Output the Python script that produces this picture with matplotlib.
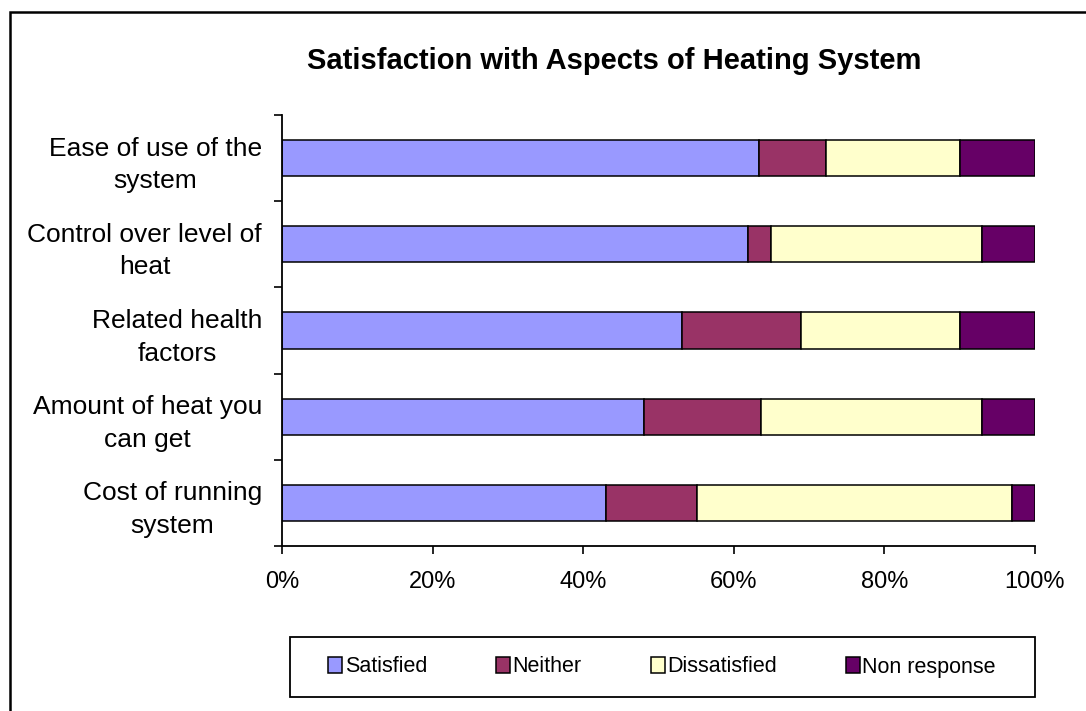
import matplotlib
matplotlib.use("Agg")
import matplotlib.pyplot as plt
from matplotlib.patches import Rectangle
from matplotlib.ticker import FixedLocator, PercentFormatter

plt.rcParams['font.family'] = ['Liberation Sans', 'DejaVu Sans']

categories = ["Ease of use of the\nsystem", "Control over level of\nheat",
              "Related health\nfactors", "Amount of heat you\ncan get",
              "Cost of running\nsystem"]
series_names = ["Satisfied", "Neither", "Dissatisfied", "Non response"]
satisfied = [63.3, 61.9, 53.1, 48.1, 43.0]
neither = [9.0, 3.1, 15.8, 15.5, 12.1]
dissatisfied = [17.7, 28.0, 21.1, 29.4, 41.8]
non_response = [10.0, 7.0, 10.0, 7.0, 3.1]
colors = ["#9999FF", "#993366", "#FFFFCC", "#660066"]
x_ticks = [0, 20, 40, 60, 80, 100]

W, H = 1086, 711
fig = plt.figure(figsize=(W/100, H/100), dpi=100)
# outer chart border (right/bottom edges lie beyond the image)
fig.patches.append(Rectangle((10/W, -0.05), 1.1, 1 - 12/H + 0.05, transform=fig.transFigure,
                             fill=False, edgecolor='black', linewidth=1.8))

ax = fig.add_axes([282/W, 1 - 546/H, (1035-282)/W, (546-115)/H])
ypos = list(range(len(categories)))[::-1]
left = [0]*len(categories)
for name, vals, c in zip(series_names, [satisfied, neither, dissatisfied, non_response], colors):
    ax.barh(ypos, vals, left=left, height=0.42, color=c, edgecolor='black', linewidth=1.1, label=name)
    left = [l + v for l, v in zip(left, vals)]

ax.set_xlim(0, 100)
ax.set_ylim(-0.5, len(categories) - 0.5)
ax.xaxis.set_major_locator(FixedLocator(x_ticks))
ax.xaxis.set_major_formatter(PercentFormatter(decimals=0))
ax.set_yticks(ypos)
ax.set_yticklabels(categories, multialignment='center', linespacing=1.45)
ax.tick_params(axis='y', length=0, pad=14.4, labelsize=19)
ax.set_yticks([i - 0.5 for i in range(len(categories) + 1)], minor=True)
ax.tick_params(axis='y', which='minor', length=6, width=1.2)
ax.tick_params(axis='x', length=6, width=1.2, labelsize=17, pad=12)
for s in ['top', 'right']:
    ax.spines[s].set_visible(False)
ax.spines['left'].set_linewidth(1.3)
ax.spines['bottom'].set_linewidth(1.3)

fig.text(614/W, 1 - 61/H, "Satisfaction with Aspects of Heating System",
         ha='center', va='center', fontsize=21, fontweight='bold')

# legend frame
fig.patches.append(Rectangle((290/W, 1 - 697/H), (1035-290)/W, (697-637)/H,
                             transform=fig.transFigure, fill=False, edgecolor='black', linewidth=1.3))
leg = fig.legend(loc='center', bbox_to_anchor=(662/W, 1 - 667/H), ncol=4,
                 frameon=False, fontsize=15.5, borderpad=0,
                 handlelength=0.65, handleheight=0.74, handletextpad=0.12, columnspacing=3.2)

fig.savefig("out.png", dpi=100)
